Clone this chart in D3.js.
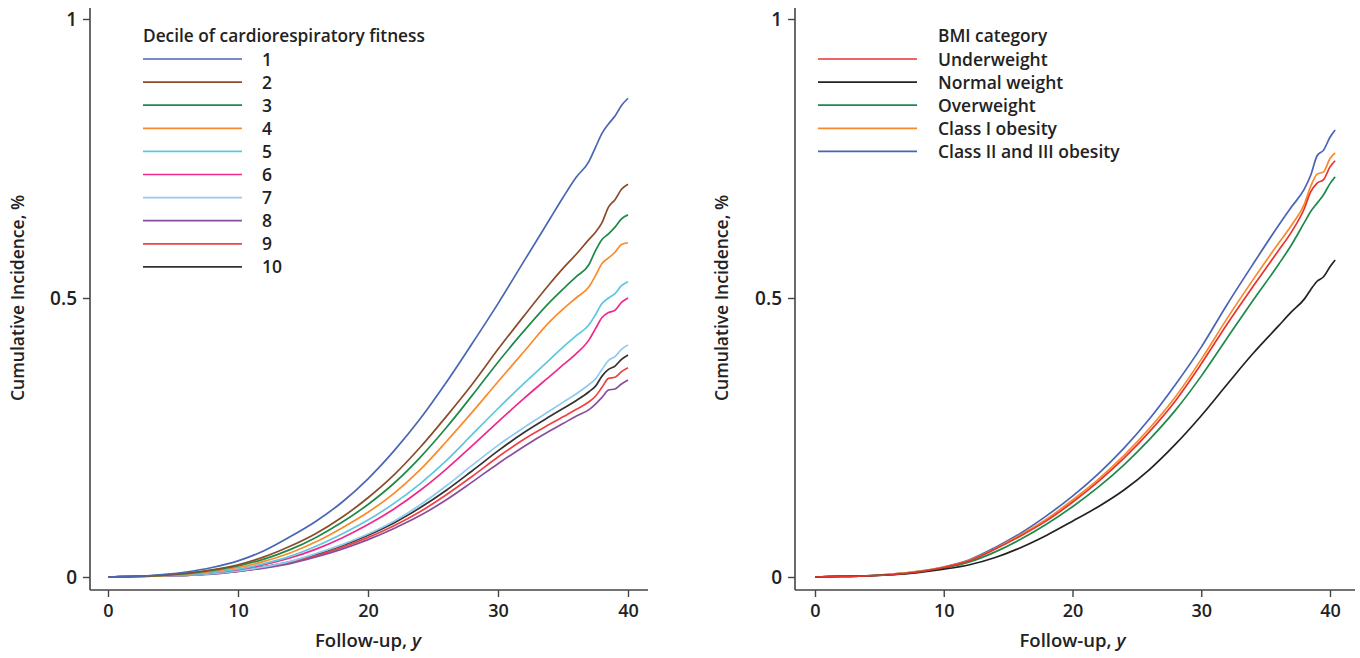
<!DOCTYPE html>
<html><head><meta charset="utf-8">
<script src="https://cdn.jsdelivr.net/npm/d3@7"></script>
<style>
body{margin:0;background:#fff;}
text{font-family:"Open Sans",sans-serif;fill:#222;}
</style></head>
<body><svg id="chart" width="1360" height="658"></svg>
<script>
// ---------- Data ----------
const xsLeft = [0,2,4,6,8,10,12,14,16,18,20,22,24,26,28,30,32,34,35,36,37,37.5,38,38.5,39,39.5,40];
const decileLabels = ["1","2","3","4","5","6","7","8","9","10"];
const decileColors = ["#4a66b4","#8c4b2a","#1e8a4a","#f98b2c","#5cc7df","#ef2a8c","#8fcbee","#8a4d9e","#ef4242","#333333"];
const decile1  = [0,0.001,0.004,0.009,0.017,0.029,0.047,0.072,0.100,0.134,0.176,0.226,0.283,0.348,0.418,0.490,0.566,0.642,0.680,0.716,0.745,0.770,0.795,0.812,0.826,0.845,0.858];
const decile2  = [0,0.001,0.003,0.007,0.013,0.022,0.036,0.055,0.078,0.107,0.142,0.183,0.232,0.287,0.345,0.408,0.468,0.526,0.553,0.578,0.605,0.618,0.635,0.663,0.676,0.695,0.704];
const decile3  = [0,0.001,0.003,0.006,0.012,0.020,0.032,0.049,0.071,0.098,0.130,0.168,0.214,0.267,0.325,0.385,0.441,0.493,0.516,0.538,0.560,0.585,0.605,0.615,0.627,0.642,0.649];
const decile4  = [0,0.001,0.002,0.005,0.010,0.017,0.028,0.043,0.063,0.088,0.116,0.150,0.192,0.242,0.295,0.350,0.404,0.458,0.480,0.500,0.520,0.540,0.562,0.572,0.582,0.596,0.599];
const decile5  = [0,0.001,0.002,0.004,0.008,0.014,0.024,0.037,0.055,0.077,0.102,0.132,0.167,0.208,0.255,0.302,0.347,0.390,0.412,0.432,0.452,0.470,0.490,0.500,0.508,0.522,0.529];
const decile6  = [0,0.001,0.002,0.004,0.008,0.013,0.022,0.034,0.050,0.070,0.094,0.122,0.155,0.193,0.235,0.278,0.320,0.360,0.380,0.400,0.425,0.445,0.465,0.474,0.478,0.492,0.500];
const decile7  = [0,0.001,0.002,0.003,0.006,0.011,0.018,0.028,0.042,0.058,0.077,0.100,0.129,0.163,0.200,0.236,0.268,0.298,0.313,0.328,0.345,0.355,0.372,0.388,0.395,0.408,0.416];
const decile8  = [0,0.001,0.002,0.003,0.005,0.010,0.016,0.024,0.036,0.050,0.067,0.087,0.110,0.138,0.170,0.203,0.234,0.262,0.275,0.288,0.300,0.310,0.322,0.335,0.337,0.346,0.353];
const decile9  = [0,0.001,0.002,0.003,0.006,0.010,0.017,0.026,0.038,0.053,0.071,0.092,0.117,0.147,0.180,0.215,0.247,0.274,0.287,0.300,0.314,0.324,0.340,0.356,0.358,0.368,0.375];
const decile10 = [0,0.001,0.002,0.003,0.006,0.011,0.018,0.027,0.040,0.056,0.075,0.097,0.124,0.155,0.190,0.226,0.259,0.288,0.302,0.316,0.332,0.342,0.360,0.372,0.378,0.390,0.398];

const xsRight = [0,2,4,6,8,10,12,14,16,18,20,22,24,26,28,30,32,34,36,37,38,38.5,39,39.5,40,40.4];
const bmiLabels = ["Underweight","Normal weight","Overweight","Class I obesity","Class II and III obesity"];
const bmiColors = ["#e8332f","#222222","#1b8a4a","#f88a2a","#4a64b5"];
const underweight = [0,0.001,0.002,0.004,0.009,0.017,0.029,0.050,0.074,0.101,0.134,0.171,0.213,0.261,0.316,0.382,0.453,0.520,0.585,0.618,0.660,0.690,0.706,0.712,0.735,0.746];
const normalWeight = [0,0.001,0.002,0.004,0.008,0.014,0.022,0.035,0.053,0.075,0.100,0.126,0.156,0.193,0.238,0.289,0.345,0.400,0.450,0.475,0.498,0.515,0.530,0.538,0.556,0.568];
const overweight  = [0,0.001,0.002,0.004,0.009,0.016,0.027,0.045,0.068,0.095,0.126,0.161,0.201,0.247,0.299,0.360,0.428,0.495,0.560,0.595,0.635,0.655,0.670,0.685,0.705,0.717];
const obesity1    = [0,0.001,0.002,0.005,0.010,0.018,0.030,0.051,0.076,0.104,0.138,0.175,0.218,0.267,0.323,0.390,0.463,0.532,0.598,0.630,0.668,0.700,0.722,0.726,0.750,0.760];
const obesity23   = [0,0.001,0.002,0.005,0.010,0.018,0.031,0.053,0.079,0.110,0.145,0.185,0.231,0.284,0.345,0.412,0.488,0.560,0.630,0.663,0.695,0.720,0.755,0.765,0.788,0.801];

const xTicks = [0,10,20,30,40];
const yTicks = [0,0.5,1];
const yTickLabels = ["0","0.5","1"];
const leftLegendTitle = "Decile of cardiorespiratory fitness";
const rightLegendTitle = "BMI category";
const yTitle = "Cumulative Incidence, %";

// ---------- Drawing ----------
const svg = d3.select("#chart");

function panel(opts){
  const {xRange, axisX, axisRight, xs, series, colors, labels, legendTitle, legX, legLabelX, legTitleX, titleX} = opts;
  const x = d3.scaleLinear().domain([0,40]).range(xRange);
  const y = d3.scaleLinear().domain([0,1]).range([577,19]);
  const g = svg.append("g");
  const axisColor = "#444";

  // y axis
  const ya = g.append("g").attr("transform",`translate(${axisX},0)`)
    .call(d3.axisLeft(y).tickValues(yTicks).tickFormat((d,i)=>yTickLabels[i]).tickSize(7).tickPadding(6).tickSizeOuter(0));
  ya.select(".domain").remove();
  ya.selectAll(".tick line").attr("stroke",axisColor).attr("stroke-width",1.4);
  ya.selectAll(".tick text").style("font-size","19px").style("font-weight","600").attr("fill","#222");
  g.append("line").attr("x1",axisX).attr("x2",axisX).attr("y1",8).attr("y2",590)
    .attr("stroke",axisColor).attr("stroke-width",1.6);

  // x axis
  const xa = g.append("g").attr("transform",`translate(0,590)`)
    .call(d3.axisBottom(x).tickValues(xTicks).tickFormat(d3.format("d")).tickSize(7).tickPadding(7).tickSizeOuter(0));
  xa.select(".domain").remove();
  xa.selectAll(".tick line").attr("stroke",axisColor).attr("stroke-width",1.4);
  xa.selectAll(".tick text").style("font-size","18px").style("font-weight","600").attr("fill","#222");
  g.append("line").attr("x1",axisX).attr("x2",axisRight).attr("y1",590).attr("y2",590)
    .attr("stroke",axisColor).attr("stroke-width",1.6);

  // axis titles
  const xt = g.append("text").attr("x",x(20)).attr("y",647).attr("text-anchor","middle")
    .style("font-size","18.5px").style("font-weight","600");
  xt.append("tspan").text("Follow-up, ");
  xt.append("tspan").attr("font-style","italic").text("y");
  g.append("text").attr("transform",`translate(${titleX},${y(0.5)}) rotate(-90)`)
    .attr("text-anchor","middle").style("font-size","17.5px").style("font-weight","600").text(yTitle);

  // lines
  const line = d3.line().x((d,i)=>x(xs[i])).y(d=>y(d)).curve(d3.curveMonotoneX);
  series.slice().reverse().forEach((s,ri)=>{
    const i = series.length-1-ri;
    g.append("path").attr("d",line(s)).attr("fill","none")
      .attr("stroke",colors[i]).attr("stroke-width",1.7);
  });

  // legend
  g.append("text").attr("x",legTitleX).attr("y",42)
    .style("font-size","17.3px").style("font-weight","600").text(legendTitle);
  labels.forEach((lab,i)=>{
    const ly = 59 + i*23.1;
    g.append("line").attr("x1",legX).attr("x2",legX+99).attr("y1",ly).attr("y2",ly)
      .attr("stroke",colors[i]).attr("stroke-width",1.7);
    g.append("text").attr("x",legLabelX).attr("y",ly+6.5).style("font-size","17.5px").style("font-weight","600").text(lab);
  });
}

panel({xRange:[108,628], axisX:90, axisRight:648, xs:xsLeft,
  series:[decile1,decile2,decile3,decile4,decile5,decile6,decile7,decile8,decile9,decile10],
  colors:decileColors, labels:decileLabels, legendTitle:leftLegendTitle,
  legX:143, legLabelX:262, legTitleX:143, titleX:24});

panel({xRange:[815,1330], axisX:795, axisRight:1355, xs:xsRight,
  series:[underweight,normalWeight,overweight,obesity1,obesity23],
  colors:bmiColors, labels:bmiLabels, legendTitle:rightLegendTitle,
  legX:818, legLabelX:938, legTitleX:938, titleX:728});
</script>
</body></html>
